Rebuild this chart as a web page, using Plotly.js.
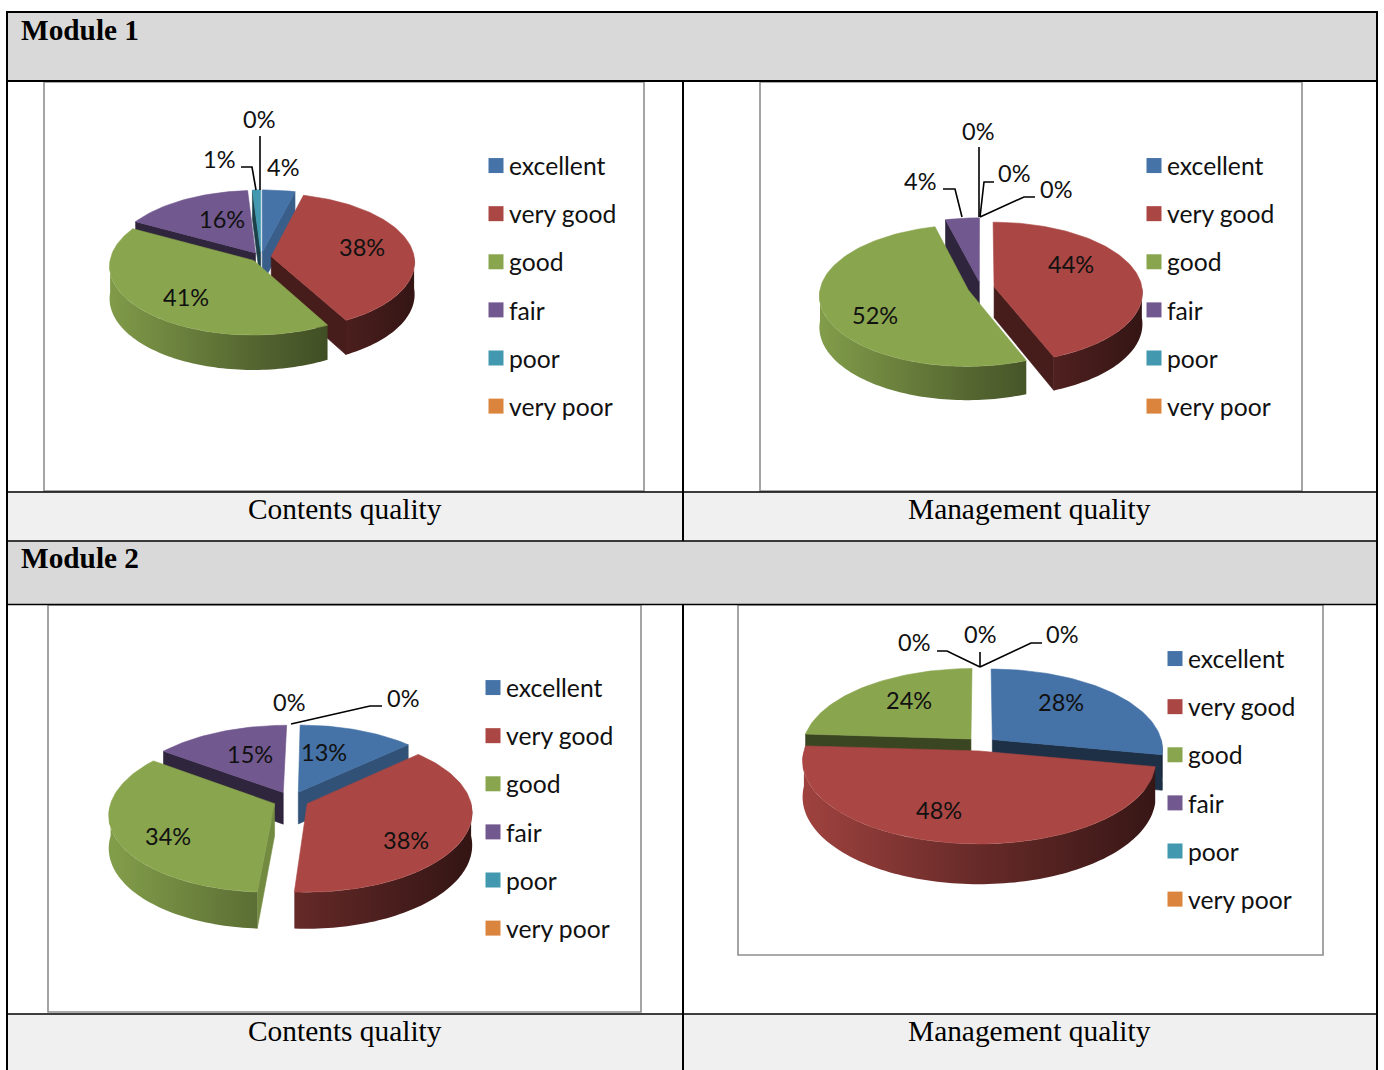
<!DOCTYPE html>
<html>
<head>
<meta charset="utf-8">
<title>Module quality ratings</title>
<script src="https://cdn.plot.ly/plotly-3.0.1.min.js"></script>
<style>
  html, body { margin: 0; padding: 0; background: #fff; }
  #chart { width: 1384px; height: 1070px; }
  /* Tighter gap between legend swatch and its text */
  .legendpoints { transform: translateX(7px); }
</style>
</head>
<body>
<div id="chart"></div>
<script>
// Rating categories and the share of answers per category, in percent.
const categories = ['excellent', 'very good', 'good', 'fair', 'poor', 'very poor'];
const module1Contents = [4, 38, 41, 16, 1, 0];
const module1Management = [0, 44, 52, 4, 0, 0];
const module2Contents = [13, 38, 34, 15, 0, 0];
const module2Management = [28, 48, 24, 0, 0, 0];

const sectionTitles = ['Module 1', 'Module 2'];
const captions = ['Contents quality', 'Management quality'];

const sliceColors = ['#4572A7', '#AA4643', '#89A54E', '#71588F', '#4198AF', '#DB843D'];

// Pie geometry in page pixels: centre, radii, tilt depth, perspective, explosion.
const panels = [
  { values: module1Contents, frame: [44, 82, 644, 491], cx: 261, cy: 257, rx: 143, ry: 68, depth: 32, persp: 0.08, explode: 0.072, vanish: 0,
    radiusBy: [1, 1, 1, 1, 1, 1], legendX: 469, legendY: 143,
    labelPos: [[283, 168], [362, 248], [186, 298], [222, 220], [219, 160], [259, 120]],
    leaders: [[[260, 136], [260, 190]], [[241, 167], [252, 167], [256, 190]]] },
  { values: module1Management, frame: [760, 82, 1302, 491], cx: 981, cy: 288, rx: 148, ry: 70, depth: 31, persp: 0.08, explode: 0.09, vanish: 0,
    radiusBy: [1, 1, 1, 1, 1, 1], legendX: 1127, legendY: 143,
    labelPos: [[1014, 174], [1071, 265], [875, 316], [920, 182], [1056, 190], [978, 132]],
    leaders: [[[979, 147], [979, 217]], [[994, 182], [984, 182], [980, 217]], [[1035, 197], [1024, 197], [980, 217]], [[943, 189], [955, 189], [962, 217]]] },
  { values: module2Contents, frame: [48, 605, 641, 1012], cx: 291, cy: 800, rx: 163, ry: 77, depth: 32, persp: 0.12, explode: 0.11, vanish: 0.15,
    radiusBy: [1, 1, 1, 1, 1, 1], legendX: 466, legendY: 665,
    labelPos: [[324, 753], [406, 841], [168, 837], [250, 755], [289, 703], [403, 699]],
    leaders: [[[382, 706], [370, 706], [291, 724]]] },
  { values: module2Management, frame: [738, 605, 1323, 955], cx: 981, cy: 744, rx: 170, ry: 80, depth: 35, persp: 0.12, explode: 0.087, vanish: 0,
    radiusBy: [1, 1.02, 0.99, 1, 1, 1], legendX: 1148, legendY: 636,
    labelPos: [[1061, 703], [939, 811], [909, 701], [914, 643], [980, 635], [1062, 635]],
    leaders: [[[980, 652], [980, 667]], [[937, 651], [947, 651], [980, 667]], [[1042, 643], [1031, 643], [980, 667]]] }
];

const WIDTH = 1384, HEIGHT = 1070;
const px = x => x / WIDTH;
const py = y => 1 - y / HEIGHT;
const rad = d => d * Math.PI / 180;

function rgb(hex) {
  return [1, 3, 5].map(i => parseInt(hex.slice(i, i + 2), 16));
}
function shade(hex, f) {
  return 'rgb(' + rgb(hex).map(c => Math.round(c * f)).join(',') + ')';
}

// Projects a point of the unit disk to axis units, with rear points shrunk by perspective.
function project(panel, u, v, lowered) {
  const s = 1 / (1 + panel.persp * v);
  const drop = lowered ? panel.depth / panel.ry : 0;
  return [(u - panel.vanish) * s + panel.vanish, (v - drop) * s];
}

function arcAngles(a, b) {
  const list = [];
  const n = Math.max(2, Math.ceil((b - a) / 1.5));
  for (let i = 0; i <= n; i++) list.push(a + (b - a) * i / n);
  return list;
}

const traces = [];
const layout = {
  width: WIDTH, height: HEIGHT,
  margin: { l: 0, r: 0, t: 0, b: 0 },
  paper_bgcolor: '#fff', plot_bgcolor: 'rgba(0,0,0,0)',
  showlegend: true, hovermode: false,
  shapes: [], annotations: []
};

function pieces(panel, axisId, x, y, color, mode, gradient) {
  const t = {
    type: 'scatter', x, y, xaxis: 'x' + axisId, yaxis: 'y' + axisId,
    fill: 'toself', mode: mode, showlegend: false, hoverinfo: 'skip'
  };
  if (gradient) {
    t.fillgradient = gradient;
  } else {
    t.fillcolor = color;
    t.line = { color, width: 0.6 };
  }
  return t;
}

panels.forEach((panel, p) => {
  const id = p === 0 ? '' : String(p + 1);
  const [x0, y0, x1, y1] = panel.frame;
  layout['xaxis' + id] = {
    domain: [px(x0), px(x1)], range: [(x0 - panel.cx) / panel.rx, (x1 - panel.cx) / panel.rx],
    visible: false, fixedrange: true, anchor: 'y' + id
  };
  layout['yaxis' + id] = {
    domain: [py(y1), py(y0)], range: [(panel.cy - y1) / panel.ry, (panel.cy - y0) / panel.ry],
    visible: false, fixedrange: true, anchor: 'x' + id
  };

  // Turn percentages into clockwise angles measured from twelve o'clock.
  let running = 0;
  const slices = panel.values.map((value, i) => {
    const start = running * 3.6;
    running += value;
    return { i, value, start, end: running * 3.6, mid: (start + running * 3.6) / 2 };
  }).filter(s => s.value > 0);
  slices.sort((a, b) => Math.cos(rad(b.mid)) - Math.cos(rad(a.mid)));

  slices.forEach(s => {
    const base = sliceColors[s.i];
    const ou = panel.explode * Math.sin(rad(s.mid));
    const ov = panel.explode * Math.cos(rad(s.mid));
    const widen = panel.radiusBy[s.i];
    const rim = (deg, low) => project(panel, ou + widen * Math.sin(rad(deg)), ov + Math.cos(rad(deg)), low);
    const apex = low => project(panel, ou, ov, low);

    // Cut faces that turn towards the viewer; those facing right catch more light.
    const face = (deg, nx) => {
      const pts = [apex(false), rim(deg, false), rim(deg, true), apex(true), apex(false)];
      const color = shade(base, 0.42 + 0.42 * Math.max(0, nx));
      traces.push(pieces(panel, id, pts.map(q => q[0]), pts.map(q => q[1]), color, 'lines'));
    };
    if (s.start > 180 && s.start < 360) face(s.start, -Math.cos(rad(s.start)));
    if (s.end > 0 && s.end < 180) face(s.end, Math.cos(rad(s.end)));

    // Curved outer wall along the front half of the rim.
    const a = Math.max(s.start, 90), b = Math.min(s.end, 270);
    if (b > a) {
      const angles = arcAngles(a, b);
      const pts = angles.map(d => rim(d, false)).concat(angles.slice().reverse().map(d => rim(d, true)));
      pts.push(pts[0]);
      traces.push(pieces(panel, id, pts.map(q => q[0]), pts.map(q => q[1]), null, 'none', {
        type: 'horizontal', start: -1.1, stop: 1.1,
        colorscale: [[0, shade(base, 0.95)], [0.5, shade(base, 0.6)], [1, shade(base, 0.3)]]
      }));
    }

    // Top surface of the slice.
    const top = [apex(false)].concat(arcAngles(s.start, s.end).map(d => rim(d, false)));
    top.push(top[0]);
    traces.push(pieces(panel, id, top.map(q => q[0]), top.map(q => q[1]), base, 'lines'));
  });

  // One legend per pie, listing every category including the empty ones.
  const legendKey = p === 0 ? 'legend' : 'legend' + (p + 1);
  layout[legendKey] = {
    x: px(panel.legendX), y: py(panel.legendY), xanchor: 'left', yanchor: 'top',
    bgcolor: 'rgba(0,0,0,0)', borderwidth: 0, traceorder: 'grouped', tracegroupgap: 13,
    font: { family: 'Lato, sans-serif', size: 24.7, color: '#111' }
  };
  categories.forEach((name, i) => {
    traces.push({
      type: 'scatter', x: [null], y: [null], name, mode: 'markers',
      xaxis: 'x' + id, yaxis: 'y' + id, legend: legendKey, legendgroup: p + name,
      marker: { symbol: 'square', size: 15, color: sliceColors[i] }, hoverinfo: 'skip'
    });
  });

  // Percentage labels, read straight from the values.
  panel.values.forEach((value, i) => {
    layout.annotations.push({
      xref: 'paper', yref: 'paper', x: px(panel.labelPos[i][0]), y: py(panel.labelPos[i][1] - 1),
      text: value + '%', showarrow: false, xanchor: 'center', yanchor: 'middle',
      font: { family: 'Lato, sans-serif', size: 23.5, color: '#111' }
    });
  });

  // Leader lines from outlying labels.
  panel.leaders.forEach(line => {
    const path = line.map((q, i) => (i ? 'L' : 'M') + px(q[0]) + ' ' + py(q[1])).join(' ');
    layout.shapes.push({ type: 'path', xref: 'paper', yref: 'paper', path, line: { color: '#000', width: 1.6 }, layer: 'above' });
  });

  // Thin grey border round the pie area.
  layout.shapes.push({
    type: 'rect', xref: 'paper', yref: 'paper', x0: px(x0), x1: px(x1), y0: py(y0), y1: py(y1),
    line: { color: '#8e8e8e', width: 1.6 }, fillcolor: 'rgba(0,0,0,0)', layer: 'below'
  });
});

// Table bands and rules that hold the four charts.
const band = (y0, y1, color) => layout.shapes.unshift({
  type: 'rect', xref: 'paper', yref: 'paper', x0: px(7), x1: px(1377), y0: py(y0), y1: py(y1),
  fillcolor: color, line: { width: 0 }, layer: 'below'
});
band(12, 81, '#D9D9D9');
band(541, 604, '#D9D9D9');
band(491, 541, '#F0F0F0');
band(1014, 1070, '#F0F0F0');

const rule = (xa, ya, xb, yb, width) => layout.shapes.push({
  type: 'line', xref: 'paper', yref: 'paper', x0: px(xa), y0: py(ya), x1: px(xb), y1: py(yb),
  line: { color: '#000', width }, layer: 'above'
});
rule(6, 12, 1378, 12, 2);
rule(7, 81, 1377, 81, 2);
rule(7, 492, 1377, 492, 1.6);
rule(7, 541, 1377, 541, 1.6);
rule(7, 604.5, 1377, 604.5, 1.6);
rule(7, 1014, 1377, 1014, 1.6);
rule(7, 12, 7, 1070, 2);
rule(1377, 12, 1377, 1070, 2);
rule(683, 81, 683, 541, 2);
rule(683, 604, 683, 1070, 2);

const serif = '"Liberation Serif", serif';
[[30, sectionTitles[0]], [558, sectionTitles[1]]].forEach(([y, text]) => {
  layout.annotations.push({
    xref: 'paper', yref: 'paper', x: px(19), y: py(y), text: '<b>' + text + '</b>',
    showarrow: false, xanchor: 'left', yanchor: 'middle',
    font: { family: serif, size: 29.3, color: '#000' }
  });
});
[[344.5, 509], [1029.5, 509], [344.5, 1031], [1029.5, 1031]].forEach(([x, y], i) => {
  layout.annotations.push({
    xref: 'paper', yref: 'paper', x: px(x), y: py(y), text: captions[i % 2],
    showarrow: false, xanchor: 'center', yanchor: 'middle',
    font: { family: serif, size: 29.4, color: '#000' }
  });
});

Plotly.newPlot('chart', traces, layout, { displayModeBar: false, staticPlot: true });
</script>
</body>
</html>
